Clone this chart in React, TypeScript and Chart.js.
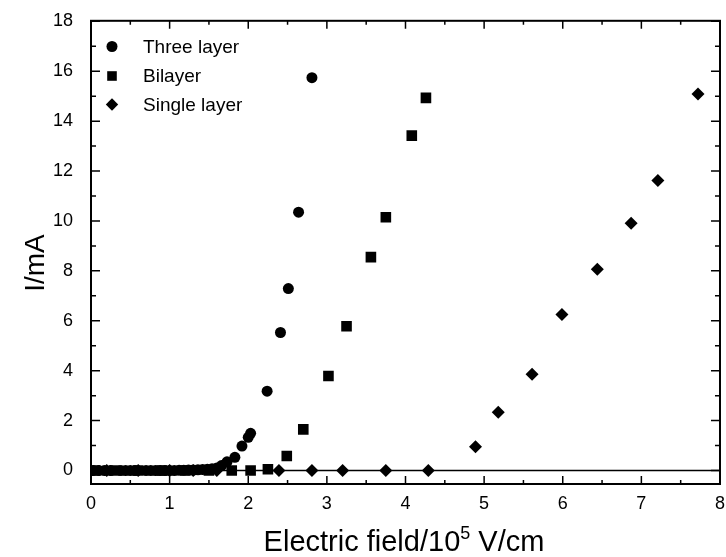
import React, { useEffect, useRef } from 'react';
import { Chart, registerables } from 'chart.js';

Chart.register(...registerables);

const seriesLabels = ['Three layer', 'Bilayer', 'Single layer'];

const threeLayerX = [0.03, 0.1, 0.17, 0.25, 0.38, 0.44, 0.5, 0.56, 0.7, 0.76, 0.82, 0.88, 0.94, 1.0, 1.06, 1.12, 1.18, 1.24, 1.3, 1.36, 1.42, 1.48, 1.54, 1.6, 1.66, 1.73, 1.83, 1.92, 2.0, 2.03, 2.24, 2.41, 2.51, 2.64, 2.81];
const threeLayerY = [0, 0, 0, 0, 0, 0, 0, 0, 0, 0, 0, 0, 0, 0, 0, 0.01, 0.01, 0.02, 0.02, 0.03, 0.04, 0.05, 0.07, 0.1, 0.2, 0.35, 0.53, 0.98, 1.33, 1.49, 3.18, 5.53, 7.29, 10.35, 15.74];

const bilayerX = [0.05, 0.3, 0.6, 0.9, 1.2, 1.5, 1.79, 2.03, 2.25, 2.49, 2.7, 3.02, 3.25, 3.56, 3.75, 4.08, 4.26];
const bilayerY = [0, 0, 0, 0, 0, 0, 0, 0, 0.05, 0.58, 1.65, 3.79, 5.78, 8.55, 10.15, 13.42, 14.93];

const singleLayerX = [0.2, 0.6, 1.0, 1.3, 1.6, 2.39, 2.81, 3.2, 3.75, 4.29, 4.89, 5.18, 5.61, 5.99, 6.44, 6.87, 7.21, 7.72];
const singleLayerY = [0, 0, 0, 0, 0, 0, 0, 0, 0, 0, 0.95, 2.33, 3.86, 6.25, 8.06, 9.91, 11.62, 15.09];

const xTickValues = [0, 1, 2, 3, 4, 5, 6, 7, 8];
const yTickValues = [0, 2, 4, 6, 8, 10, 12, 14, 16, 18];

const xTitleMain = 'Electric field/10';
const xTitleSup = '5';
const xTitleTail = ' V/cm';
const yTitle = 'I/mA';

const FONT = '"Liberation Sans", Arial, Helvetica, sans-serif';

const toPoints = (xs: number[], ys: number[]) => xs.map((x, i) => ({ x, y: ys[i] }));

function drawMarker(ctx: CanvasRenderingContext2D, style: string, cx: number, cy: number) {
  ctx.beginPath();
  if (style === 'circle') {
    ctx.arc(cx, cy, 5.5, 0, Math.PI * 2);
  } else if (style === 'rect') {
    ctx.rect(cx - 4.8, cy - 4.8, 9.6, 9.6);
  } else {
    ctx.moveTo(cx, cy - 6.2);
    ctx.lineTo(cx + 6.2, cy);
    ctx.lineTo(cx, cy + 6.2);
    ctx.lineTo(cx - 6.2, cy);
    ctx.closePath();
  }
  ctx.fill();
}

const decorPlugin = {
  id: 'decor',
  beforeDatasetsDraw(chart: any) {
    const { ctx, chartArea: a, scales } = chart;
    const y0 = scales.y.getPixelForValue(0);
    ctx.save();
    ctx.strokeStyle = '#000';
    ctx.lineWidth = 1.6;
    ctx.beginPath();
    ctx.moveTo(a.left, y0);
    ctx.lineTo(a.right, y0);
    ctx.stroke();
    ctx.restore();
  },
  afterDraw(chart: any) {
    const { ctx, chartArea: a, scales } = chart;
    const xs = scales.x;
    const ys = scales.y;
    ctx.save();
    ctx.strokeStyle = '#000';
    ctx.fillStyle = '#000';
    ctx.lineWidth = 2;
    ctx.strokeRect(a.left, a.top, a.right - a.left, a.bottom - a.top);

    ctx.lineWidth = 1.5;
    ctx.beginPath();
    for (let v = 0; v <= 8.001; v += 0.5) {
      const px = xs.getPixelForValue(v);
      const len = Math.abs(v - Math.round(v)) < 1e-6 ? 8 : 4;
      ctx.moveTo(px, a.bottom);
      ctx.lineTo(px, a.bottom - len);
      ctx.moveTo(px, a.top);
      ctx.lineTo(px, a.top + len);
    }
    for (let v = 0; v <= 18; v += 1) {
      const py = ys.getPixelForValue(v);
      const len = v % 2 === 0 ? 9 : 5;
      ctx.moveTo(a.left, py);
      ctx.lineTo(a.left + len, py);
      ctx.moveTo(a.right, py);
      ctx.lineTo(a.right - len, py);
    }
    ctx.stroke();

    // legend
    const styles = ['circle', 'rect', 'rectRot'];
    const rows = [46.5, 76, 104.5];
    ctx.font = `19px ${FONT}`;
    ctx.textBaseline = 'middle';
    ctx.textAlign = 'left';
    chart.data.datasets.forEach((ds: any, i: number) => {
      drawMarker(ctx, styles[i], 112, rows[i]);
      ctx.fillText(ds.label, 143, rows[i] + 1);
    });

    // y title
    ctx.save();
    ctx.translate(36, 263);
    ctx.rotate(-Math.PI / 2);
    ctx.font = `28px ${FONT}`;
    ctx.textAlign = 'center';
    ctx.textBaseline = 'middle';
    ctx.fillText(yTitle, 0, 0);
    ctx.restore();

    // x title
    const mainFont = `29px ${FONT}`;
    const supFont = `18px ${FONT}`;
    ctx.font = mainFont;
    const w1 = ctx.measureText(xTitleMain).width;
    const w3 = ctx.measureText(xTitleTail).width;
    ctx.font = supFont;
    const w2 = ctx.measureText(xTitleSup).width;
    const total = w1 + w2 + w3;
    let sx = 404 - total / 2;
    const baseY = 551;
    ctx.textAlign = 'left';
    ctx.textBaseline = 'alphabetic';
    ctx.font = mainFont;
    ctx.fillText(xTitleMain, sx, baseY);
    sx += w1;
    ctx.font = supFont;
    ctx.fillText(xTitleSup, sx, baseY - 12);
    sx += w2;
    ctx.font = mainFont;
    ctx.fillText(xTitleTail, sx, baseY);
    ctx.restore();
  },
};

export default function App() {
  const canvasRef = useRef<HTMLCanvasElement | null>(null);

  useEffect(() => {
    if (!canvasRef.current) return;
    const mk = (label: string, xs: number[], ys: number[], style: string, r: number) => ({
      label,
      data: toPoints(xs, ys),
      pointStyle: style,
      pointRadius: r,
      pointHoverRadius: r,
      pointBackgroundColor: '#000',
      pointBorderColor: '#000',
      pointBorderWidth: 0,
      showLine: false,
    });
    const chart = new Chart(canvasRef.current, {
      type: 'scatter',
      data: {
        datasets: [
          mk(seriesLabels[0], threeLayerX, threeLayerY, 'circle', 5.5),
          mk(seriesLabels[1], bilayerX, bilayerY, 'rect', 7.5),
          mk(seriesLabels[2], singleLayerX, singleLayerY, 'rectRot', 6.5),
        ] as any,
      },
      options: {
        animation: false,
        responsive: false,
        maintainAspectRatio: false,
        layout: { autoPadding: false, padding: { left: 0, right: 4, top: 20, bottom: 0 } },
        plugins: {
          legend: { display: false },
          tooltip: { enabled: false },
        },
        scales: {
          x: {
            type: 'linear',
            min: 0,
            max: 8,
            grid: { display: false },
            border: { display: false },
            ticks: {
              stepSize: 1,
              padding: 1,
              color: '#000',
              font: { family: FONT, size: 18 },
            },
            afterBuildTicks: (scale: any) => {
              scale.ticks = xTickValues.map((v) => ({ value: v }));
            },
            afterFit: (scale: any) => {
              scale.height = 73;
            },
          },
          y: {
            type: 'linear',
            min: -0.54,
            max: 18.02,
            grid: { display: false },
            border: { display: false },
            ticks: {
              stepSize: 2,
              padding: 10,
              color: '#000',
              font: { family: FONT, size: 18 },
            },
            afterBuildTicks: (scale: any) => {
              scale.ticks = yTickValues.map((v) => ({ value: v }));
            },
            afterFit: (scale: any) => {
              scale.width = 91;
            },
          },
        },
      },
      plugins: [decorPlugin],
    });
    return () => chart.destroy();
  }, []);

  return (
    <div style={{ position: 'fixed', left: 0, top: 0, width: 726, height: 557, background: '#fff' }}>
      <canvas ref={canvasRef} width={726} height={557} style={{ width: 726, height: 557, display: 'block' }} />
    </div>
  );
}
